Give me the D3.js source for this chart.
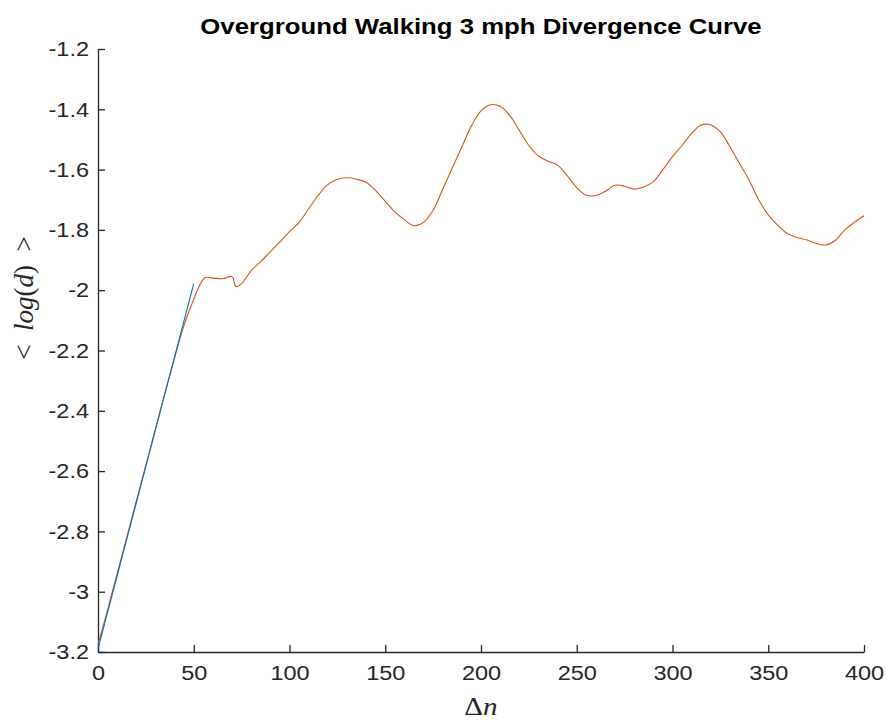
<!DOCTYPE html>
<html>
<head>
<meta charset="utf-8">
<script src="https://cdn.jsdelivr.net/npm/d3@7"></script>
<style>
   html, body { margin: 0; padding: 0; background: #fff; }
   svg { display: block; }
</style>
</head>
<body>
<svg id="chart" width="887" height="723"></svg>
<script>
// data
var deltaN = [0, 5, 10, 15, 20, 25, 30, 35, 40, 45, 50, 53, 56, 60, 65, 70, 72, 75, 80, 85,
   90, 95, 100, 105, 110, 115, 120, 125, 130, 135, 140, 145, 150, 155, 160, 165, 170, 175,
   180, 185, 190, 195, 200, 205, 210, 215, 220, 225, 230, 235, 240, 245, 250, 255, 260, 265,
   270, 275, 280, 285, 290, 295, 300, 305, 310, 315, 320, 325, 330, 335, 340, 345, 350, 355,
   360, 365, 370, 375, 380, 385, 390, 395, 400];
var meanLogD = [-3.175, -3.06, -2.94, -2.82, -2.70, -2.58, -2.46, -2.34, -2.225, -2.115, -2.03,
   -1.985, -1.958, -1.960, -1.962, -1.955, -1.988, -1.978, -1.935, -1.905,
   -1.872, -1.84, -1.806, -1.775, -1.73, -1.685, -1.65, -1.632, -1.627, -1.632, -1.642, -1.67,
   -1.705, -1.74, -1.766, -1.786, -1.775, -1.735, -1.665, -1.595, -1.525, -1.455, -1.405,
   -1.385, -1.39, -1.42, -1.47, -1.52, -1.555, -1.572, -1.585, -1.62, -1.66, -1.685, -1.686,
   -1.672, -1.652, -1.655, -1.665, -1.658, -1.64, -1.60, -1.557, -1.52, -1.48, -1.452, -1.452,
   -1.475, -1.524, -1.58, -1.635, -1.70, -1.75, -1.785, -1.812, -1.825, -1.833, -1.845, -1.85,
   -1.835, -1.80, -1.775, -1.753];

// linear fit over the first 50 steps
var fitN = [0, 50];
var fitLogD = [-3.19, -1.978];

var xTicks = [0, 50, 100, 150, 200, 250, 300, 350, 400];
var xTickLabels = ['0', '50', '100', '150', '200', '250', '300', '350', '400'];
var yTicks = [-3.2, -3, -2.8, -2.6, -2.4, -2.2, -2, -1.8, -1.6, -1.4, -1.2];
var yTickLabels = ['-3.2', '-3', '-2.8', '-2.6', '-2.4', '-2.2', '-2', '-1.8', '-1.6', '-1.4', '-1.2'];

var svg = d3.select('#chart');
var margin = {top: 49, right: 23, bottom: 71, left: 98};
var width = +svg.attr('width') - margin.left - margin.right,
   height = +svg.attr('height') - margin.top - margin.bottom;

// text in the picture is a little wider than its height suggests
var stretch = 1.12;
var axisColor = '#262626';
var sans = '"Liberation Sans", Arial, Helvetica, sans-serif';
var serif = '"Liberation Serif", "Times New Roman", serif';

var x = d3.scaleLinear().domain([0, 400]).range([0, width]);
var y = d3.scaleLinear().domain([-3.2, -1.2]).range([height, 0]);

var g = svg.append('g')
   .attr('transform', 'translate(' + margin.left + ',' + margin.top + ')');

var xAxis = d3.axisBottom(x)
   .tickValues(xTicks)
   .tickSizeInner(-7)
   .tickSizeOuter(0)
   .tickPadding(21)
   .tickFormat(function (d, i) { return xTickLabels[i]; });

var yAxis = d3.axisLeft(y)
   .tickValues(yTicks)
   .tickSizeInner(-7)
   .tickSizeOuter(0)
   .tickPadding(8)
   .tickFormat(function (d, i) { return yTickLabels[i]; });

function styleAxis(sel) {
   sel.select('.domain').attr('stroke', axisColor).attr('stroke-width', 1.3);
   sel.selectAll('.tick line').attr('stroke', axisColor).attr('stroke-width', 1.3);
   sel.selectAll('.tick text')
      .attr('fill', axisColor)
      .style('font-family', sans)
      .style('font-size', '21px')
      .attr('transform', 'scale(' + stretch + ',1)');
}

g.append('g')
   .attr('class', 'axis axis--x')
   .attr('transform', 'translate(0,' + height + ')')
   .call(xAxis)
   .call(styleAxis);

g.append('g')
   .attr('class', 'axis axis--y')
   .call(yAxis)
   .call(styleAxis);

g.selectAll('.axis--x .tick text').attr('dy', '0.32em');

var line = d3.line()
   .x(function (d) { return x(d[0]); })
   .y(function (d) { return y(d[1]); });

var curvePoints = d3.zip(deltaN, meanLogD);
var fitPoints = d3.zip(fitN, fitLogD);

g.append('path')
   .datum(curvePoints)
   .attr('fill', 'none')
   .attr('stroke', '#D95319')
   .attr('stroke-width', 1.1)
   .attr('d', line.curve(d3.curveCatmullRom.alpha(0.5)));

g.append('path')
   .datum(fitPoints)
   .attr('fill', 'none')
   .attr('stroke', '#0072BD')
   .attr('stroke-width', 1.1)
   .attr('d', d3.line()
      .x(function (d) { return x(d[0]); })
      .y(function (d) { return y(d[1]); }));

// title
svg.append('text')
   .attr('transform', 'translate(' + (margin.left + width / 2) + ',34) scale(' + stretch + ',1)')
   .attr('text-anchor', 'middle')
   .attr('fill', '#000')
   .style('font-family', sans)
   .style('font-weight', 'bold')
   .style('font-size', '23px')
   .text('Overground Walking 3 mph Divergence Curve');

// x label: \Delta n
var xLabel = svg.append('text')
   .attr('transform', 'translate(' + (margin.left + width / 2) + ',715) scale(' + stretch + ',1)')
   .attr('text-anchor', 'middle')
   .attr('fill', axisColor)
   .style('font-family', serif)
   .style('font-size', '26px');
xLabel.append('tspan').text('Δ');
xLabel.append('tspan').style('font-style', 'italic').text('n');

// y label: < log(d) >
var yLabel = svg.append('text')
   .attr('transform', 'translate(33,298) rotate(-90)')
   .attr('text-anchor', 'middle')
   .attr('fill', axisColor)
   .style('font-family', serif)
   .style('font-size', '27px');
yLabel.append('tspan').text('<\u2002');
yLabel.append('tspan').style('font-style', 'italic').text('log');
yLabel.append('tspan').text('(');
yLabel.append('tspan').style('font-style', 'italic').text('d');
yLabel.append('tspan').text(')\u2002>');
</script>
</body>
</html>
